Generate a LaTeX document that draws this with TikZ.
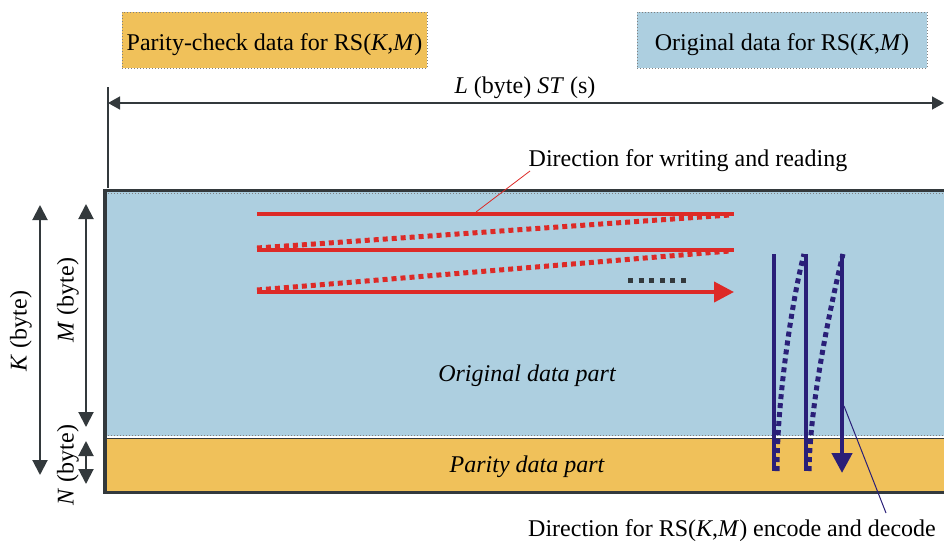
\documentclass[tikz,border=0pt]{standalone}
\usepackage{fontspec}
\setmainfont{Liberation Serif}
\usetikzlibrary{arrows.meta}
\definecolor{orangec}{HTML}{F0C15A}
\definecolor{bluec}{HTML}{ADCFE0}
\definecolor{redc}{HTML}{DD2A27}
\definecolor{navyc}{HTML}{2A1F78}
\definecolor{darkc}{HTML}{33393C}
\tikzset{
  legendbox/.style={draw=gray, dash pattern=on 1pt off 2pt, line width=0.8pt, minimum height=56, inner sep=0pt, text height=22pt, text depth=2pt},
  dimarrow/.style={draw=darkc, line width=2pt, {Triangle[length=15pt,width=15pt]}-{Triangle[length=15pt,width=15pt]}},
  larrow/.style={draw=darkc, line width=1.5pt, {Triangle[length=12pt,width=13pt]}-{Triangle[length=12pt,width=13pt]}},
  redline/.style={draw=redc, line width=4pt},
  reddot/.style={draw=redc, line width=5pt, dash pattern=on 5pt off 4pt},
  navyline/.style={draw=navyc, line width=4.5pt},
  navydot/.style={draw=navyc, line width=5pt, dash pattern=on 5pt off 4pt},
  partlabel/.style={font=\fontsize{24}{28}\selectfont\itshape},
}
\begin{document}
\begin{tikzpicture}[x=1pt,y=-1pt, font=\fontsize{24}{28}\selectfont]
\useasboundingbox (0,0) rectangle (944,544);
% legend
\node[legendbox, fill=orangec, minimum width=305] (lgP) at (274.5,40) {Parity-check data for RS(\textit{K},\textit{M})};
\node[legendbox, fill=bluec, minimum width=290] (lgO) at (782,40) {Original data for RS(\textit{K},\textit{M})};
% main areas
\fill[bluec] (105,190) rectangle (944,436);
\draw[gray, dash pattern=on 1pt off 2pt, line width=0.8pt] (105,435) -- (944,435);
\draw[gray, dash pattern=on 1pt off 2pt, line width=0.8pt] (108,193) -- (944,193);
\fill[orangec] (105,438) rectangle (944,492);
\draw[darkc, line width=1.5pt] (105,438.5) -- (944,438.5);
\draw[darkc, line width=2.5pt] (105,492.5) -- (944,492.5);
\draw[darkc, line width=3pt] (105,190) -- (944,190);
\draw[darkc, line width=4pt] (105,188.5) -- (105,494);
\node[partlabel] (odp) at (527,376) {Original data part};
\node[partlabel] (pdp) at (527,467) {Parity data part};
% L dimension
\coordinate (ltop) at (108,87);
\coordinate (lbot) at (108,188);
\draw[darkc, line width=2pt] (ltop) -- (lbot);
\coordinate (la) at (108,103);
\coordinate (lb) at (944,103);
\draw[larrow] (la) -- (lb);
\node (llab) at (525,88) {\textit{L} (byte) \textit{ST} (s)};
% K, M, N dimensions
\coordinate (ka) at (40,205); \coordinate (kb) at (40,475);
\draw[dimarrow] (ka) -- (kb);
\node[rotate=90] (klab) at (21,331) {\textit{K} (byte)};
\coordinate (ma) at (86,204); \coordinate (mb) at (86,427);
\draw[dimarrow] (ma) -- (mb);
\node[rotate=90] (mlab) at (68,300) {\textit{M} (byte)};
\coordinate (na) at (86,441); \coordinate (nb) at (86,484);
\draw[dimarrow] (na) -- (nb);
\node[rotate=90] (nlab) at (68,465) {\textit{N} (byte)};
% red writing/reading
\coordinate (r1a) at (257,214); \coordinate (r1b) at (734,214);
\coordinate (r2a) at (257,250); \coordinate (r2b) at (734,250);
\coordinate (r3a) at (257,292); \coordinate (r3b) at (734,292);
\draw[redline] (r1a) -- (r1b);
\draw[redline] (r2a) -- (r2b);
\draw[redline, -{Triangle[length=20pt,width=20pt]}] (r3a) -- (r3b);
\draw[reddot] (257,248) -- (730,215);
\draw[reddot] (257,290) -- (730,251);
\draw[darkc, line width=5pt, dash pattern=on 5pt off 5.6pt] (628,280) -- (688,280);
\node (wrlab) at (688,161) {Direction for writing and reading};
\coordinate (wrpt) at (476,212);
\draw[redc, line width=0.8pt] (wrpt) -- (530,171);
% navy encode/decode
\coordinate (b1a) at (774,254); \coordinate (b1b) at (774,471);
\coordinate (b2a) at (806,254); \coordinate (b2b) at (806,471);
\coordinate (b3a) at (842,254); \coordinate (b3b) at (842,473);
\draw[navyline] (b1a) -- (b1b);
\draw[navyline] (b2a) -- (b2b);
\draw[navyline, -{Triangle[length=20pt,width=20pt]}] (b3a) -- (b3b);
\draw[navydot] (777,471) .. controls (777,400) and (792,300) .. (804,254);
\draw[navydot] (809,471) .. controls (810,400) and (832,300) .. (843,254);
\node (edlab) at (732,531) {Direction for RS(\textit{K},\textit{M}) encode and decode};
\coordinate (edpt) at (844,406);
\draw[navyc, line width=1pt] (edpt) -- (886,513);
\end{tikzpicture}
\end{document}
